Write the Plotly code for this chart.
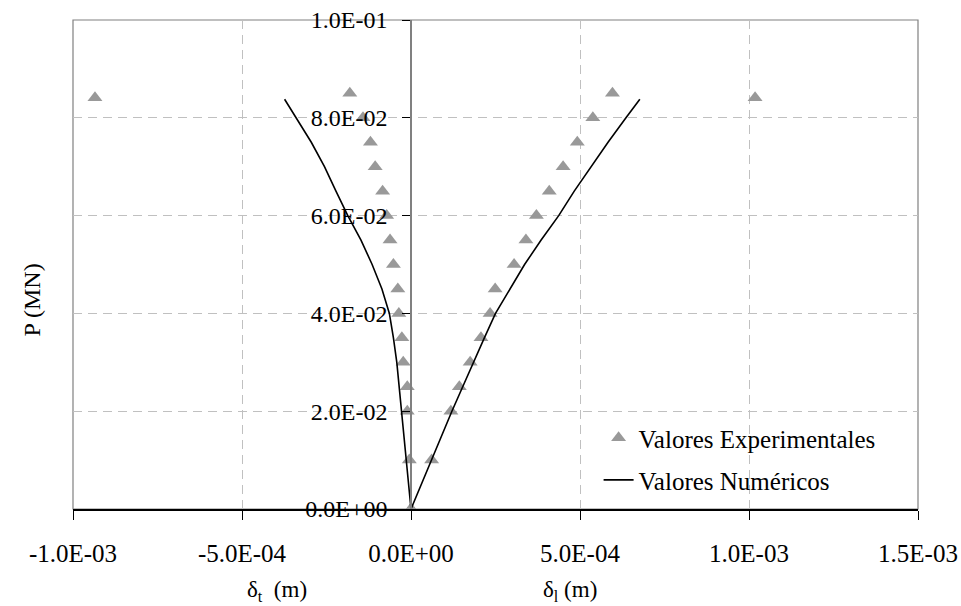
import plotly.graph_objects as go

# Experimental values: transverse (delta_t) and longitudinal (delta_l) displacement vs load P
exp_P = [0.0, 0.01, 0.02, 0.025, 0.03, 0.035, 0.04, 0.045, 0.05, 0.055, 0.06, 0.065, 0.07, 0.075, 0.08, 0.085]
exp_dl = [0.0, 6.1e-5, 1.18e-4, 1.43e-4, 1.75e-4, 2.07e-4, 2.34e-4, 2.49e-4, 3.05e-4, 3.40e-4,
          3.71e-4, 4.09e-4, 4.50e-4, 4.92e-4, 5.38e-4, 5.96e-4]
exp_dt = [0.0, -5e-6, -1.1e-5, -1.1e-5, -2.3e-5, -2.7e-5, -3.6e-5, -3.9e-5, -5.2e-5, -6.2e-5,
          -7.2e-5, -8.4e-5, -1.06e-4, -1.20e-4, -1.42e-4, -1.81e-4]
# isolated experimental points
out_P = [0.0841, 0.0841]
out_d = [-9.35e-4, 1.018e-3]

# Numerical values
num_P = [0.0, 0.005, 0.01, 0.015, 0.02, 0.025, 0.03, 0.035, 0.04, 0.045, 0.05, 0.055, 0.06,
         0.065, 0.07, 0.075, 0.08, 0.0838]
num_dl = [0.0, 3.0e-5, 6.0e-5, 9.0e-5, 1.21e-4, 1.53e-4, 1.84e-4, 2.17e-4, 2.50e-4, 2.92e-4,
          3.36e-4, 3.85e-4, 4.37e-4, 4.83e-4, 5.32e-4, 5.83e-4, 6.36e-4, 6.77e-4]
num_dt = [0.0, -7e-6, -1.4e-5, -2.0e-5, -2.6e-5, -3.3e-5, -4.2e-5, -5.2e-5, -6.4e-5, -8.6e-5,
          -1.15e-4, -1.48e-4, -1.87e-4, -2.22e-4, -2.56e-4, -2.95e-4, -3.40e-4, -3.74e-4]

x_ticks = [-1.0e-3, -5.0e-4, 0.0, 5.0e-4, 1.0e-3, 1.5e-3]
x_tick_labels = ["-1.0E-03", "-5.0E-04", "0.0E+00", "5.0E-04", "1.0E-03", "1.5E-03"]
y_ticks = [0.0, 0.02, 0.04, 0.06, 0.08, 0.1]
y_tick_labels = ["0.0E+00", "2.0E-02", "4.0E-02", "6.0E-02", "8.0E-02", "1.0E-01"]

FONT = "Liberation Serif"
GRAY = "#999999"
marker = dict(symbol="triangle-up", size=13, color=GRAY, line=dict(width=0))
line = dict(color="black", width=1.6)

fig = go.Figure()
fig.add_trace(go.Scatter(x=exp_dt + exp_dl + out_d, y=exp_P + exp_P + out_P, mode="markers",
                         marker=marker, name="Valores Experimentales", legend="legend"))
fig.add_trace(go.Scatter(x=num_dt, y=num_P, mode="lines", line=line,
                         name="Valores Numéricos", legend="legend2"))
fig.add_trace(go.Scatter(x=num_dl, y=num_P, mode="lines", line=line,
                         name="Valores Numéricos", showlegend=False))

fig.update_layout(
    width=961, height=606,
    margin=dict(l=73, r=43, t=20, b=97, autoexpand=False),
    paper_bgcolor="white", plot_bgcolor="white",
    font=dict(family=FONT, size=24, color="black"),
    xaxis=dict(range=[-1.0e-3, 1.5e-3], tickvals=x_ticks, ticktext=x_tick_labels,
               showgrid=True, gridcolor="#c0c0c0", griddash="9px,6px", gridwidth=1,
               showline=True, linecolor="black", linewidth=1.6,
               ticks="outside", ticklen=9, tickcolor="black", tickwidth=1,
               ticklabelstandoff=12, zeroline=False, automargin=False,
               tickfont=dict(family=FONT, size=25)),
    yaxis=dict(range=[0, 0.1], tickvals=y_ticks, ticktext=y_tick_labels,
               anchor="free", position=0.4,
               showgrid=True, gridcolor="#c0c0c0", griddash="9px,6px", gridwidth=1,
               showline=True, linecolor="#808080", linewidth=1.5,
               ticks="outside", ticklen=8, tickcolor="black", tickwidth=1,
               ticklabelstandoff=10, zeroline=False, automargin=False,
               tickfont=dict(family=FONT, size=24)),
    legend=dict(x=0.622, y=0.145, xanchor="left", yanchor="middle",
                bgcolor="rgba(0,0,0,0)", font=dict(family=FONT, size=25)),
    legend2=dict(x=0.622, y=0.059, xanchor="left", yanchor="middle",
                 bgcolor="rgba(0,0,0,0)", font=dict(family=FONT, size=25)),
    shapes=[dict(type="rect", xref="paper", yref="paper", x0=0, y0=0, x1=1, y1=1,
                 line=dict(color="#808080", width=1.2), layer="below")],
    annotations=[
        dict(text="P (MN)", xref="paper", yref="paper", x=-0.066, y=0.427, textangle=-90,
             showarrow=False, font=dict(family=FONT, size=24)),
        dict(text="δ<sub>t</sub>  (m)", xref="paper", yref="paper", x=0.203, y=-0.2,
             showarrow=False, font=dict(family=FONT, size=23)),
        dict(text="δ<sub>l</sub> (m)", xref="paper", yref="paper", x=0.588, y=-0.2,
             showarrow=False, font=dict(family=FONT, size=23)),
    ],
    showlegend=True,
)

fig.write_html("out.html")
